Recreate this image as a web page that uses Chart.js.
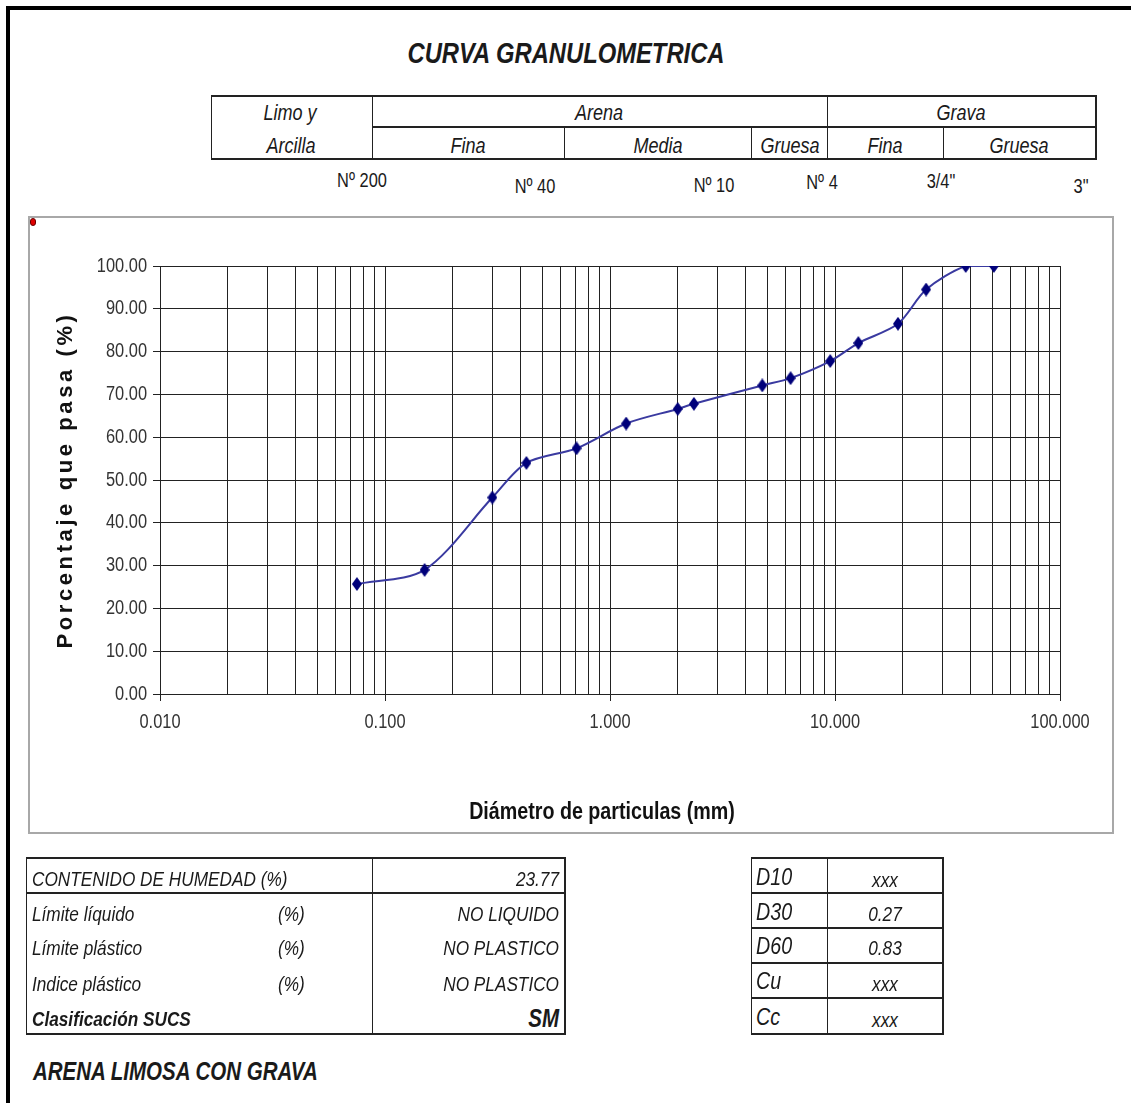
<!DOCTYPE html>
<html lang="es">
<head>
<meta charset="utf-8">
<title>Curva granulométrica</title>
<script src="https://cdn.jsdelivr.net/npm/chart.js@4.4.1/dist/chart.umd.min.js"></script>
<style>
    body { margin: 0; background: #fff; }
    #page {
        position: relative; width: 1131px; height: 1103px; overflow: hidden;
        font-family: 'Liberation Sans', Arial, sans-serif; color: #1a1a1a;
    }
    /* texto estrecho tipo Arial Narrow */
    .t { position: absolute; white-space: nowrap; line-height: 1; }
    .c { transform: translate(-50%, -50%) scaleX(0.82); transform-origin: center center; }
    .l { transform: translate(0, -50%) scaleX(0.82); transform-origin: left center; }
    .r { transform: translate(-100%, -50%) scaleX(0.82); transform-origin: right center; }
    .i { font-style: italic; }
    .b { font-weight: bold; }
    .hl { position: absolute; height: 2px; background: #222; }
    .vl { position: absolute; width: 1px; background: #222; }
    #frame {
        position: absolute; left: 6px; top: 6px; width: 1300px; height: 1300px;
        border-top: 4px solid #000; border-left: 4px solid #000;
    }
    #box {
        position: absolute; left: 28px; top: 216px; width: 1082px; height: 614px;
        border: 2px solid #a8a8a8;
    }
    #box canvas { display: block; }
    #dot {
        position: absolute; left: 30px; top: 218px; width: 4px; height: 6px;
        background: #e00000; border: 1px solid #600; border-radius: 3px;
    }
</style>
</head>
<body>
<div id="page">
    <div id="frame"></div>

    <div class="t c i b" style="left:566px; top:53px; font-size:29px;">CURVA GRANULOMETRICA</div>

    <!-- cuadro de fracciones -->
    <div class="hl" style="left:211px; top:95px; width:886px;"></div>
    <div class="hl" style="left:372px; top:126px; width:725px;"></div>
    <div class="hl" style="left:211px; top:158px; width:886px;"></div>
    <div class="vl" style="left:211px; top:95px; height:65px;"></div>
    <div class="vl" style="left:372px; top:95px; height:65px;"></div>
    <div class="vl" style="left:564px; top:127px; height:33px;"></div>
    <div class="vl" style="left:751px; top:127px; height:33px;"></div>
    <div class="vl" style="left:827px; top:95px; height:65px;"></div>
    <div class="vl" style="left:943px; top:127px; height:33px;"></div>
    <div class="vl" style="left:1095px; top:95px; height:65px; width:2px;"></div>

    <div class="t c i" style="left:290px; top:113px; font-size:22px;">Limo y</div>
    <div class="t c i" style="left:291px; top:146px; font-size:22px;">Arcilla</div>
    <div class="t c i" style="left:599px; top:113px; font-size:22px;">Arena</div>
    <div class="t c i" style="left:961px; top:113px; font-size:22px;">Grava</div>
    <div class="t c i" style="left:468px; top:146px; font-size:22px;">Fina</div>
    <div class="t c i" style="left:658px; top:146px; font-size:22px;">Media</div>
    <div class="t c i" style="left:790px; top:146px; font-size:22px;">Gruesa</div>
    <div class="t c i" style="left:885px; top:146px; font-size:22px;">Fina</div>
    <div class="t c i" style="left:1019px; top:146px; font-size:22px;">Gruesa</div>

    <div class="t c" style="left:362px; top:180px; font-size:20px;">Nº 200</div>
    <div class="t c" style="left:535px; top:186px; font-size:20px;">Nº 40</div>
    <div class="t c" style="left:714px; top:185px; font-size:20px;">Nº 10</div>
    <div class="t c" style="left:822px; top:182px; font-size:20px;">Nº 4</div>
    <div class="t c" style="left:941px; top:181px; font-size:20px;">3/4"</div>
    <div class="t c" style="left:1081px; top:186px; font-size:20px;">3"</div>

    <div id="box"><canvas id="chart01" width="1082" height="614"></canvas></div>
    <div id="dot"></div>

    <!-- limites y clasificacion -->
    <div class="hl" style="left:26px; top:857px; width:540px;"></div>
    <div class="hl" style="left:26px; top:892px; width:540px;"></div>
    <div class="hl" style="left:26px; top:1033px; width:540px;"></div>
    <div class="vl" style="left:26px; top:857px; height:178px;"></div>
    <div class="vl" style="left:372px; top:857px; height:178px;"></div>
    <div class="vl" style="left:564px; top:857px; height:178px; width:2px;"></div>

    <div class="t l i" style="left:32px; top:878px; font-size:21px;">CONTENIDO DE HUMEDAD (%)</div>
    <div class="t r i" style="left:559px; top:878px; font-size:21px;">23.77</div>
    <div class="t l i" style="left:32px; top:913px; font-size:21px;">Límite líquido</div>
    <div class="t l i" style="left:278px; top:913px; font-size:21px;">(%)</div>
    <div class="t r i" style="left:559px; top:913px; font-size:21px;">NO LIQUIDO</div>
    <div class="t l i" style="left:32px; top:947px; font-size:21px;">Límite plástico</div>
    <div class="t l i" style="left:278px; top:947px; font-size:21px;">(%)</div>
    <div class="t r i" style="left:559px; top:947px; font-size:21px;">NO PLASTICO</div>
    <div class="t l i" style="left:32px; top:983px; font-size:21px;">Indice plástico</div>
    <div class="t l i" style="left:278px; top:983px; font-size:21px;">(%)</div>
    <div class="t r i" style="left:559px; top:983px; font-size:21px;">NO PLASTICO</div>
    <div class="t l i b" style="left:32px; top:1018px; font-size:21px;">Clasificación SUCS</div>
    <div class="t r i b" style="left:559px; top:1018px; font-size:25px;">SM</div>

    <!-- diametros -->
    <div class="hl" style="left:751px; top:857px; width:193px;"></div>
    <div class="hl" style="left:751px; top:892px; width:193px;"></div>
    <div class="hl" style="left:751px; top:927px; width:193px;"></div>
    <div class="hl" style="left:751px; top:962px; width:193px;"></div>
    <div class="hl" style="left:751px; top:997px; width:193px;"></div>
    <div class="hl" style="left:751px; top:1033px; width:193px;"></div>
    <div class="vl" style="left:751px; top:857px; height:178px;"></div>
    <div class="vl" style="left:827px; top:857px; height:178px;"></div>
    <div class="vl" style="left:942px; top:857px; height:178px; width:2px;"></div>

    <div class="t l i" style="left:756px; top:877px; font-size:24px;">D10</div>
    <div class="t l i" style="left:756px; top:912px; font-size:24px;">D30</div>
    <div class="t l i" style="left:756px; top:946px; font-size:24px;">D60</div>
    <div class="t l i" style="left:756px; top:981px; font-size:24px;">Cu</div>
    <div class="t l i" style="left:756px; top:1017px; font-size:24px;">Cc</div>
    <div class="t c i" style="left:885px; top:879px; font-size:21px;">xxx</div>
    <div class="t c i" style="left:885px; top:913px; font-size:21px;">0.27</div>
    <div class="t c i" style="left:885px; top:947px; font-size:21px;">0.83</div>
    <div class="t c i" style="left:885px; top:983px; font-size:21px;">xxx</div>
    <div class="t c i" style="left:885px; top:1019px; font-size:21px;">xxx</div>

    <div class="t l i b" style="left:33px; top:1071px; font-size:25px;">ARENA LIMOSA CON GRAVA</div>
</div>

<script>
// abertura de tamiz (mm) y porcentaje que pasa
const sieveOpening = [0.075, 0.150, 0.300, 0.425, 0.710, 1.180, 2.000, 2.360, 4.750, 6.350, 9.525, 12.700, 19.050, 25.400, 38.100, 50.800];
const percentPassing = [25.7, 29.0, 45.9, 54.0, 57.4, 63.2, 66.6, 67.8, 72.1, 73.8, 77.8, 82.0, 86.5, 94.5, 100.0, 100.0];

// ejes
const xDecades = [0.01, 0.1, 1, 10, 100];
const yMin = 0, yMax = 100, yStep = 10;

const sans = "'Liberation Sans', Arial, sans-serif";

function isDecade(v) {
    const e = Math.log10(v);
    return Math.abs(e - Math.round(e)) < 1e-6;
}

// rombo del marcador
const diamond = document.createElement('canvas');
diamond.width = 10;
diamond.height = 14;
const dctx = diamond.getContext('2d');
dctx.fillStyle = '#00007a';
dctx.beginPath();
dctx.moveTo(5, 0);
dctx.lineTo(10, 7);
dctx.lineTo(5, 14);
dctx.lineTo(0, 7);
dctx.closePath();
dctx.fill();

const curve = {
    label: 'Curva granulométrica',
    data: sieveOpening.map((d, i) => ({x: d, y: percentPassing[i]})),
    borderColor: '#3a3aa0',
    borderWidth: 2,
    tension: 0.3,
    pointStyle: diamond,
    pointRadius: 6
};

// wrap a scale draw method: narrow letters (fillText maxWidth) and optional letter spacing
function wrapDraw(scale, method, factor, spacing, shiftX) {
    const orig = scale[method];
    scale[method] = function () {
        const ctx = this.ctx;
        const origFill = ctx.fillText;
        ctx.fillText = function (text, x, y) {
            const w = ctx.measureText(text).width;
            origFill.call(ctx, text, x + (shiftX || 0), y, w * factor);
        };
        ctx.letterSpacing = spacing;
        orig.apply(this, arguments);
        ctx.letterSpacing = '0px';
        ctx.fillText = origFill;
    };
}

const narrowText = {
    id: 'narrowText',
    afterUpdate(chart) {
        const {x, y} = chart.scales;
        if (x._wrapped) return;
        wrapDraw(x, 'drawLabels', 0.82, '0px');
        wrapDraw(x, 'drawTitle', 0.82, '0px', -8);
        wrapDraw(y, 'drawLabels', 0.82, '0px');
        wrapDraw(y, 'drawTitle', 1, '3.6px');
        x._wrapped = true;
    }
};

new Chart(document.getElementById('chart01'), {
    type: 'line',
    data: {datasets: [curve]},
    options: {
        responsive: false,
        animation: false,
        layout: {padding: {top: 48, right: 52, left: 0, bottom: 0}},
        plugins: {
            legend: {display: false},
            tooltip: {enabled: false}
        },
        scales: {
            x: {
                type: 'logarithmic',
                min: xDecades[0],
                max: xDecades[xDecades.length - 1],
                afterBuildTicks(scale) {
                    const ticks = [];
                    xDecades.forEach((d, i) => {
                        ticks.push({value: d});
                        if (i < xDecades.length - 1) {
                            for (let k = 2; k <= 9; k++) ticks.push({value: d * k});
                        }
                    });
                    scale.ticks = ticks;
                },
                afterFit(scale) { scale.height = 138; },
                grid: {
                    color: '#222',
                    lineWidth: 1,
                    tickLength: 7,
                    tickColor: ctx => (ctx.tick && isDecade(ctx.tick.value)) ? '#222' : 'rgba(0,0,0,0)'
                },
                border: {color: '#222'},
                ticks: {
                    autoSkip: false,
                    maxRotation: 0,
                    padding: 9,
                    color: '#333',
                    font: {family: sans, size: 20},
                    callback: v => isDecade(v) ? v.toFixed(3) : ''
                },
                title: {
                    display: true,
                    text: 'Diámetro de particulas (mm)',
                    color: '#111',
                    font: {family: sans, size: 24, weight: 'bold'},
                    padding: {top: 0, bottom: 5}
                }
            },
            y: {
                min: yMin,
                max: yMax,
                afterFit(scale) { scale.width = 130; },
                grid: {color: '#222', lineWidth: 1, tickLength: 7, tickColor: '#222'},
                border: {color: '#222'},
                ticks: {
                    stepSize: yStep,
                    padding: 6,
                    color: '#333',
                    font: {family: sans, size: 20},
                    callback: v => v.toFixed(2)
                },
                title: {
                    display: true,
                    text: 'Porcentaje que pasa (%)',
                    color: '#111',
                    font: {family: sans, size: 22, weight: 'bold'},
                    padding: {top: 23, bottom: 0}
                }
            }
        }
    },
    plugins: [narrowText]
});
</script>
</body>
</html>
